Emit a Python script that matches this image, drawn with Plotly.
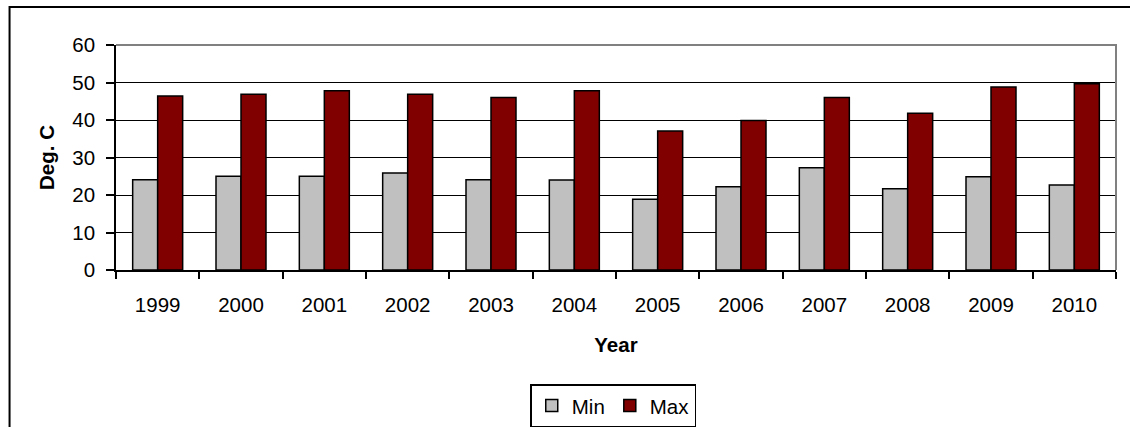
import plotly.graph_objects as go

years = ["1999", "2000", "2001", "2002", "2003", "2004", "2005", "2006", "2007", "2008", "2009", "2010"]
min_vals = [24.1, 25.0, 25.0, 25.9, 24.1, 24.0, 18.9, 22.2, 27.3, 21.7, 24.9, 22.7]
max_vals = [46.4, 46.9, 47.8, 46.9, 46.0, 47.8, 37.1, 39.9, 46.0, 41.8, 48.8, 49.7]
y_ticks = [0, 10, 20, 30, 40, 50, 60]

FONT = "Liberation Sans, Arial, sans-serif"
FS = 20.5

fig = go.Figure()
fig.add_trace(go.Bar(x=years, y=min_vals, name="Min",
                     marker=dict(color="#c0c0c0", line=dict(color="black", width=1.5))))
fig.add_trace(go.Bar(x=years, y=max_vals, name="Max",
                     marker=dict(color="#800000", line=dict(color="black", width=1.5))))

L, R, T, B = 115.5, 1116, 45, 270.5
W, H = 1130, 427
pw, ph = R - L, B - T

def px(x):
    return (x - L) / pw

def py(y):
    return (B - y) / ph

fig.update_layout(
    width=W, height=H,
    margin=dict(l=L, r=W - R, t=T, b=H - B, autoexpand=False),
    paper_bgcolor="white", plot_bgcolor="white",
    font=dict(family=FONT, size=FS, color="black"),
    barmode="group", bargap=0.4, bargroupgap=0,
    showlegend=True,
    legend=dict(orientation="h", x=px(613), y=py(385), xanchor="center", yanchor="top",
                bordercolor="black", borderwidth=1.5, bgcolor="white",
                font=dict(size=FS), itemwidth=30, tracegroupgap=0),
    xaxis=dict(type="category", showline=True, linecolor="black", linewidth=1.5,
               ticks="outside", tickson="boundaries", ticklen=7, tickcolor="black", tickwidth=1.5,
               ticklabelstandoff=16,
               title=dict(text="<b>Year</b>", font=dict(size=FS), standoff=22)),
    yaxis=dict(range=[0, 60], tickvals=y_ticks, showline=True, linecolor="black", linewidth=1.5,
               ticks="outside", ticklen=8, tickcolor="black", tickwidth=1.5,
               showgrid=True, gridcolor="black", gridwidth=1.2, zeroline=False,
               ticklabelstandoff=7,
               title=dict(text="<b>Deg. C</b>", font=dict(size=FS), standoff=12)),
    shapes=[
        dict(type="path", xref="paper", yref="paper",
             path="M 0,1 L 1,1 L 1,0", line=dict(color="#808080", width=2), layer="above"),
        dict(type="rect", xref="paper", yref="paper",
             x0=px(9), y0=py(500), x1=px(1200), y1=py(7),
             line=dict(color="black", width=2), layer="below"),
    ],
)

fig.write_html("out.html")
